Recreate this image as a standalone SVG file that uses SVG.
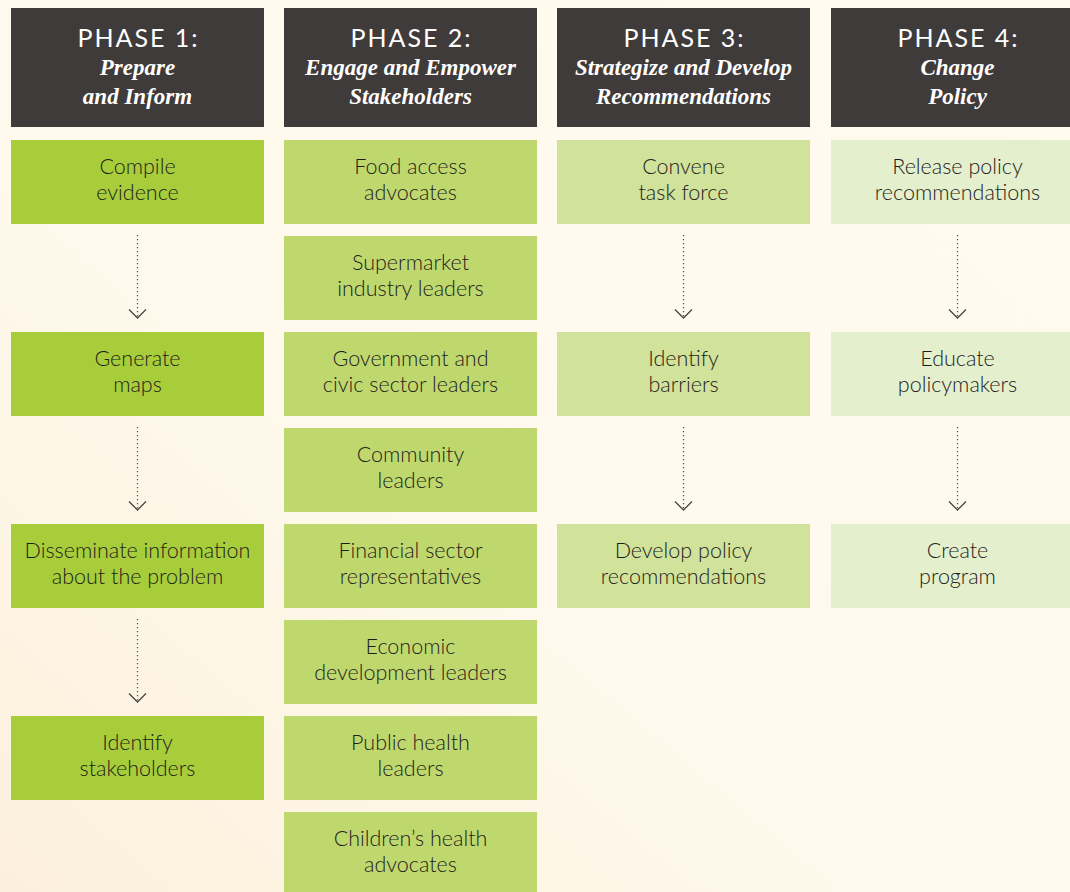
<svg xmlns="http://www.w3.org/2000/svg" width="1070" height="892" viewBox="0 0 1070 892">
<defs>
<linearGradient id="bg" x1="1" y1="0" x2="0" y2="1">
<stop offset="0" stop-color="#fffbef"/>
<stop offset="0.6" stop-color="#fef9ec"/>
<stop offset="1" stop-color="#fcf0dc"/>
</linearGradient>
<marker id="chev" viewBox="0 0 12 20" refX="10.5" refY="10" markerWidth="12" markerHeight="20" markerUnits="userSpaceOnUse" orient="auto">
<path d="M2,1.5 L10.5,10 L2,18.5" fill="none" stroke="#4a4644" stroke-width="1.3"/>
</marker>
</defs>
<style>
.hdr{fill:#3f3b3a}
.c1{fill:#a8cd3a}
.c2{fill:#bfd86e}
.c3{fill:#d1e29a}
.c4{fill:#e4efcd}
.ph{font-family:Lato,"Noto Sans",sans-serif;font-size:25px;fill:#ffffff;text-anchor:middle;letter-spacing:2px}
.sub{font-family:"Liberation Serif","Times New Roman",serif;font-size:23px;font-weight:bold;font-style:italic;fill:#ffffff;text-anchor:middle}
.t{font-family:Lato,"Noto Sans",sans-serif;font-size:21.5px;font-weight:300;fill:#1f1d1b;text-anchor:middle}
.arr{fill:none;stroke:#5a5654;stroke-width:1.3;stroke-dasharray:1.3 2.7;marker-end:url(#chev)}
</style>
<rect x="0" y="0" width="1070" height="892" fill="url(#bg)"/>

<g id="phase1">
<rect class="hdr" x="11" y="8" width="253" height="119"/>
<text class="ph" x="138.5" y="47">PHASE 1:</text>
<text class="sub" x="137.5" y="75">Prepare</text>
<text class="sub" x="137.5" y="104">and Inform</text>
</g>
<g id="phase2">
<rect class="hdr" x="284" y="8" width="253" height="119"/>
<text class="ph" x="411.5" y="47">PHASE 2:</text>
<text class="sub" x="410.5" y="75">Engage and Empower</text>
<text class="sub" x="410.5" y="104">Stakeholders</text>
</g>
<g id="phase3">
<rect class="hdr" x="557" y="8" width="253" height="119"/>
<text class="ph" x="684.5" y="47">PHASE 3:</text>
<text class="sub" x="683.5" y="75">Strategize and Develop</text>
<text class="sub" x="683.5" y="104">Recommendations</text>
</g>
<g id="phase4">
<rect class="hdr" x="831" y="8" width="253" height="119"/>
<text class="ph" x="958.5" y="47">PHASE 4:</text>
<text class="sub" x="957.5" y="75">Change</text>
<text class="sub" x="957.5" y="104">Policy</text>
</g>

<g id="p1-compile"><rect class="c1" x="11" y="140" width="253" height="84"/><text class="t" x="137.5" y="174">Compile</text><text class="t" x="137.5" y="200">evidence</text></g>
<g id="p1-maps"><rect class="c1" x="11" y="332" width="253" height="84"/><text class="t" x="137.5" y="366">Generate</text><text class="t" x="137.5" y="392">maps</text></g>
<g id="p1-disseminate"><rect class="c1" x="11" y="524" width="253" height="84"/><text class="t" x="137.5" y="558">Disseminate information</text><text class="t" x="137.5" y="584">about the problem</text></g>
<g id="p1-identify"><rect class="c1" x="11" y="716" width="253" height="84"/><text class="t" x="137.5" y="750">Identify</text><text class="t" x="137.5" y="776">stakeholders</text></g>

<g id="p2-food"><rect class="c2" x="284" y="140" width="253" height="84"/><text class="t" x="410.5" y="174">Food access</text><text class="t" x="410.5" y="200">advocates</text></g>
<g id="p2-supermarket"><rect class="c2" x="284" y="236" width="253" height="84"/><text class="t" x="410.5" y="270">Supermarket</text><text class="t" x="410.5" y="296">industry leaders</text></g>
<g id="p2-government"><rect class="c2" x="284" y="332" width="253" height="84"/><text class="t" x="410.5" y="366">Government and</text><text class="t" x="410.5" y="392">civic sector leaders</text></g>
<g id="p2-community"><rect class="c2" x="284" y="428" width="253" height="84"/><text class="t" x="410.5" y="462">Community</text><text class="t" x="410.5" y="488">leaders</text></g>
<g id="p2-financial"><rect class="c2" x="284" y="524" width="253" height="84"/><text class="t" x="410.5" y="558">Financial sector</text><text class="t" x="410.5" y="584">representatives</text></g>
<g id="p2-economic"><rect class="c2" x="284" y="620" width="253" height="84"/><text class="t" x="410.5" y="654">Economic</text><text class="t" x="410.5" y="680">development leaders</text></g>
<g id="p2-publichealth"><rect class="c2" x="284" y="716" width="253" height="84"/><text class="t" x="410.5" y="750">Public health</text><text class="t" x="410.5" y="776">leaders</text></g>
<g id="p2-children"><rect class="c2" x="284" y="812" width="253" height="84"/><text class="t" x="410.5" y="846">Children’s health</text><text class="t" x="410.5" y="872">advocates</text></g>

<g id="p3-convene"><rect class="c3" x="557" y="140" width="253" height="84"/><text class="t" x="683.5" y="174">Convene</text><text class="t" x="683.5" y="200">task force</text></g>
<g id="p3-barriers"><rect class="c3" x="557" y="332" width="253" height="84"/><text class="t" x="683.5" y="366">Identify</text><text class="t" x="683.5" y="392">barriers</text></g>
<g id="p3-develop"><rect class="c3" x="557" y="524" width="253" height="84"/><text class="t" x="683.5" y="558">Develop policy</text><text class="t" x="683.5" y="584">recommendations</text></g>

<g id="p4-release"><rect class="c4" x="831" y="140" width="253" height="84"/><text class="t" x="957.5" y="174">Release policy</text><text class="t" x="957.5" y="200">recommendations</text></g>
<g id="p4-educate"><rect class="c4" x="831" y="332" width="253" height="84"/><text class="t" x="957.5" y="366">Educate</text><text class="t" x="957.5" y="392">policymakers</text></g>
<g id="p4-create"><rect class="c4" x="831" y="524" width="253" height="84"/><text class="t" x="957.5" y="558">Create</text><text class="t" x="957.5" y="584">program</text></g>

<g id="connectors">
<path class="arr" d="M137.5,235 V318"/>
<path class="arr" d="M137.5,427 V510"/>
<path class="arr" d="M137.5,619 V702"/>
<path class="arr" d="M683.5,235 V318"/>
<path class="arr" d="M683.5,427 V510"/>
<path class="arr" d="M957.5,235 V318"/>
<path class="arr" d="M957.5,427 V510"/>
</g>
</svg>
